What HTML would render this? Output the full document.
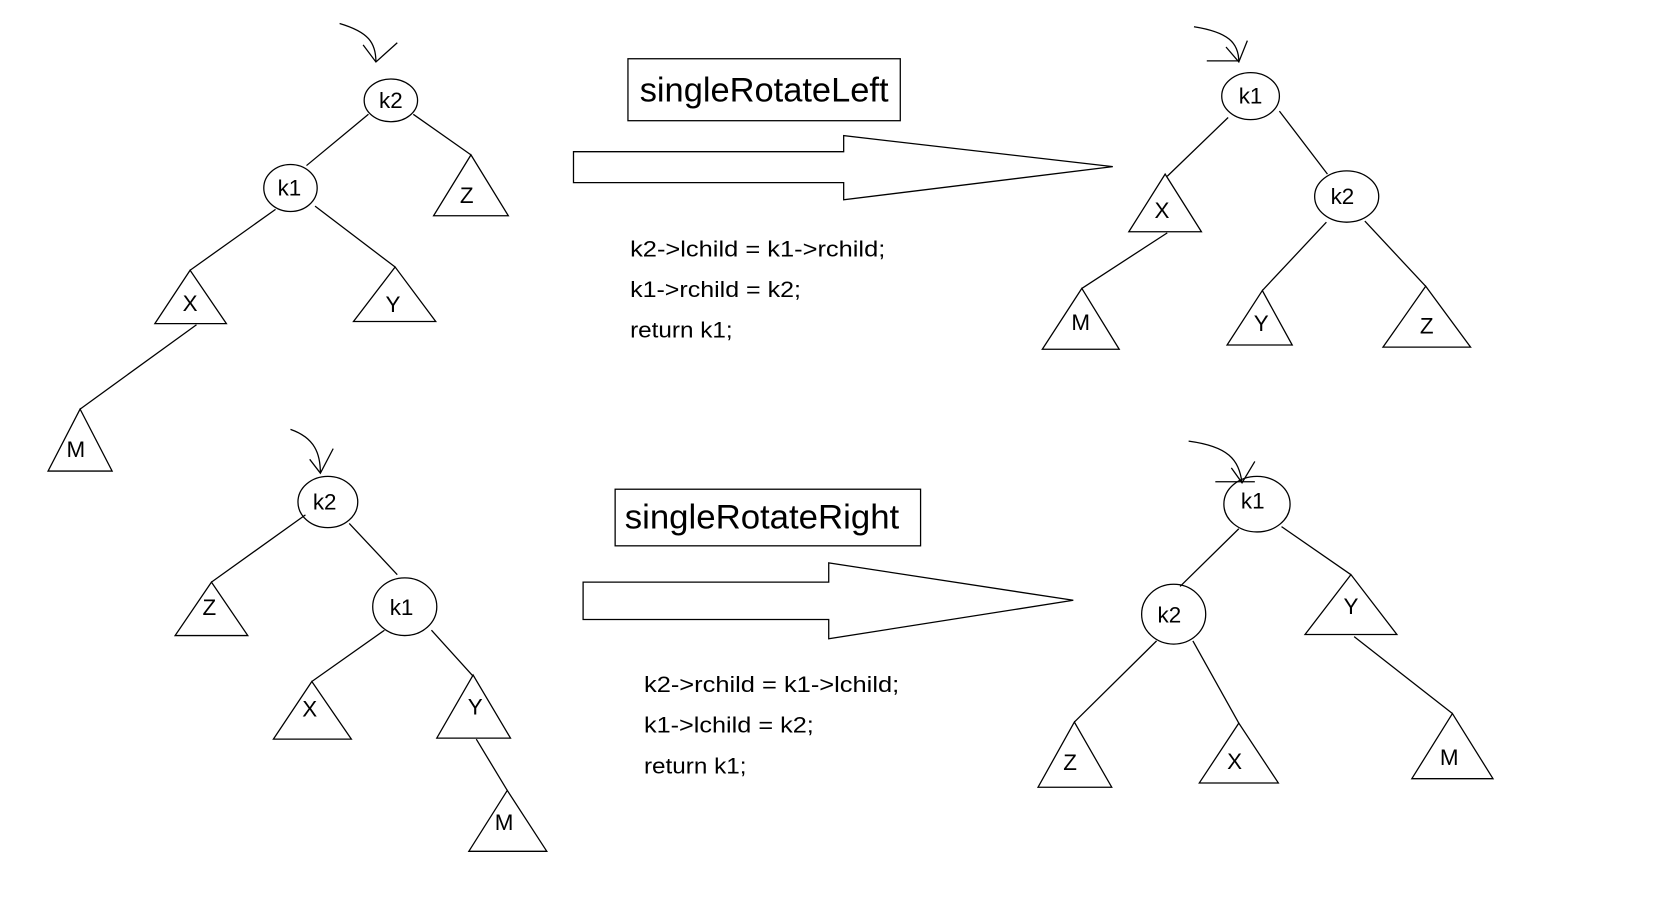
<!DOCTYPE html>
<html><head><meta charset="utf-8"><style>
html,body{margin:0;padding:0;background:#fff;}
svg{display:block;}
text{font-family:"Liberation Sans",sans-serif;fill:#000;}
</style></head><body>
<svg width="1666" height="909" viewBox="0 0 1560 851" preserveAspectRatio="none" xmlns="http://www.w3.org/2000/svg">
<g fill="none" stroke="#000" stroke-width="1.2">
<!-- top-left -->
<path d="M318,22 C345,30 352,40 352,58"/><path d="M340,42 L352,58 L372,40"/>
<ellipse cx="366" cy="94" rx="25" ry="20"/>
<ellipse cx="272" cy="176" rx="25" ry="22"/>
<line x1="345" y1="107" x2="287" y2="155"/>
<line x1="387" y1="107" x2="441" y2="145"/>
<polygon points="441,145 406,202 476,202"/>
<line x1="258" y1="196" x2="178" y2="253"/>
<polygon points="178,253 145,303 212,303"/>
<line x1="295" y1="193" x2="370" y2="250"/>
<polygon points="370,250 331,301 408,301"/>
<line x1="184" y1="304" x2="75" y2="383"/>
<polygon points="75,383 45,441 105,441"/>
<!-- top middle -->
<rect x="588" y="55" width="255" height="58"/>
<polygon points="537,142 790,142 790,127 1042,156 790,187 790,171 537,171"/>
<!-- top-right -->
<path d="M1118,25 C1150,30 1160,40 1160,58"/><path d="M1148,44 L1160,58 L1168,38"/>
<line x1="1130" y1="57" x2="1160" y2="57"/>
<ellipse cx="1171" cy="90" rx="27" ry="22"/>
<line x1="1150" y1="110" x2="1093" y2="165"/>
<polygon points="1091,163 1057,217 1125,217"/>
<line x1="1198" y1="104" x2="1243" y2="163"/>
<ellipse cx="1261" cy="184" rx="30" ry="24"/>
<line x1="1093" y1="218" x2="1013" y2="270"/>
<polygon points="1013,270 976,327 1048,327"/>
<line x1="1242" y1="208" x2="1182" y2="272"/>
<polygon points="1182,272 1149,323 1210,323"/>
<line x1="1278" y1="207" x2="1335" y2="268"/>
<polygon points="1335,268 1295,325 1377,325"/>
<!-- bottom-left -->
<path d="M272,402 C295,410 300,425 300,443"/><path d="M290,430 L300,443 L312,420"/>
<ellipse cx="307" cy="470" rx="28" ry="24"/>
<line x1="286" y1="482" x2="198" y2="545"/>
<polygon points="198,545 164,595 232,595"/>
<line x1="327" y1="490" x2="372" y2="538"/>
<ellipse cx="379" cy="568" rx="30" ry="27"/>
<line x1="360" y1="590" x2="292" y2="638"/>
<polygon points="292,638 256,692 329,692"/>
<line x1="404" y1="590" x2="443" y2="633"/>
<polygon points="443,632 409,691 478,691"/>
<line x1="446" y1="692" x2="475" y2="740"/>
<polygon points="475,740 439,797 512,797"/>
<!-- bottom middle -->
<rect x="576" y="458" width="286" height="53"/>
<polygon points="546,545 776,545 776,527 1005,562 776,598 776,580 546,580"/>
<!-- bottom-right -->
<path d="M1113,413 C1150,418 1160,430 1163,452"/><path d="M1153,438 L1163,452 L1175,432"/>
<line x1="1138" y1="451" x2="1175" y2="451"/>
<ellipse cx="1177" cy="472" rx="31" ry="26"/>
<line x1="1160" y1="495" x2="1105" y2="549"/>
<ellipse cx="1099" cy="575" rx="30" ry="28"/>
<line x1="1200" y1="493" x2="1265" y2="538"/>
<polygon points="1265,538 1222,594 1308,594"/>
<line x1="1083" y1="600" x2="1006" y2="676"/>
<polygon points="1006,676 972,737 1041,737"/>
<line x1="1117" y1="600" x2="1160" y2="677"/>
<polygon points="1160,677 1123,733 1197,733"/>
<line x1="1268" y1="596" x2="1360" y2="668"/>
<polygon points="1360,668 1322,729 1398,729"/>
</g>
<g font-size="21" text-anchor="middle">
<text x="366" y="101">k2</text>
<text x="271" y="183">k1</text>
<text x="437" y="190">Z</text>
<text x="178" y="291">X</text>
<text x="368" y="292">Y</text>
<text x="71" y="428">M</text>
<text x="1171" y="97">k1</text>
<text x="1257" y="191">k2</text>
<text x="1088" y="204">X</text>
<text x="1012" y="309">M</text>
<text x="1181" y="310">Y</text>
<text x="1336" y="312">Z</text>
<text x="304" y="477">k2</text>
<text x="376" y="576">k1</text>
<text x="196" y="576">Z</text>
<text x="290" y="671">X</text>
<text x="445" y="669">Y</text>
<text x="472" y="777">M</text>
<text x="1173" y="476">k1</text>
<text x="1095" y="583">k2</text>
<text x="1265" y="575">Y</text>
<text x="1002" y="721">Z</text>
<text x="1156" y="720">X</text>
<text x="1357" y="716">M</text>
</g>
<g font-size="32">
<text x="599" y="95" textLength="233" lengthAdjust="spacingAndGlyphs">singleRotateLeft</text>
<text x="585" y="495" textLength="257" lengthAdjust="spacingAndGlyphs">singleRotateRight</text>
</g>
<g font-size="21">
<text x="590" y="240" textLength="239" lengthAdjust="spacingAndGlyphs">k2-&gt;lchild = k1-&gt;rchild;</text>
<text x="590" y="278" textLength="160" lengthAdjust="spacingAndGlyphs">k1-&gt;rchild = k2;</text>
<text x="590" y="316" textLength="96" lengthAdjust="spacingAndGlyphs">return k1;</text>
<text x="603" y="648" textLength="239" lengthAdjust="spacingAndGlyphs">k2-&gt;rchild = k1-&gt;lchild;</text>
<text x="603" y="686" textLength="159" lengthAdjust="spacingAndGlyphs">k1-&gt;lchild = k2;</text>
<text x="603" y="724" textLength="96" lengthAdjust="spacingAndGlyphs">return k1;</text>
</g>
</svg>
</body></html>
